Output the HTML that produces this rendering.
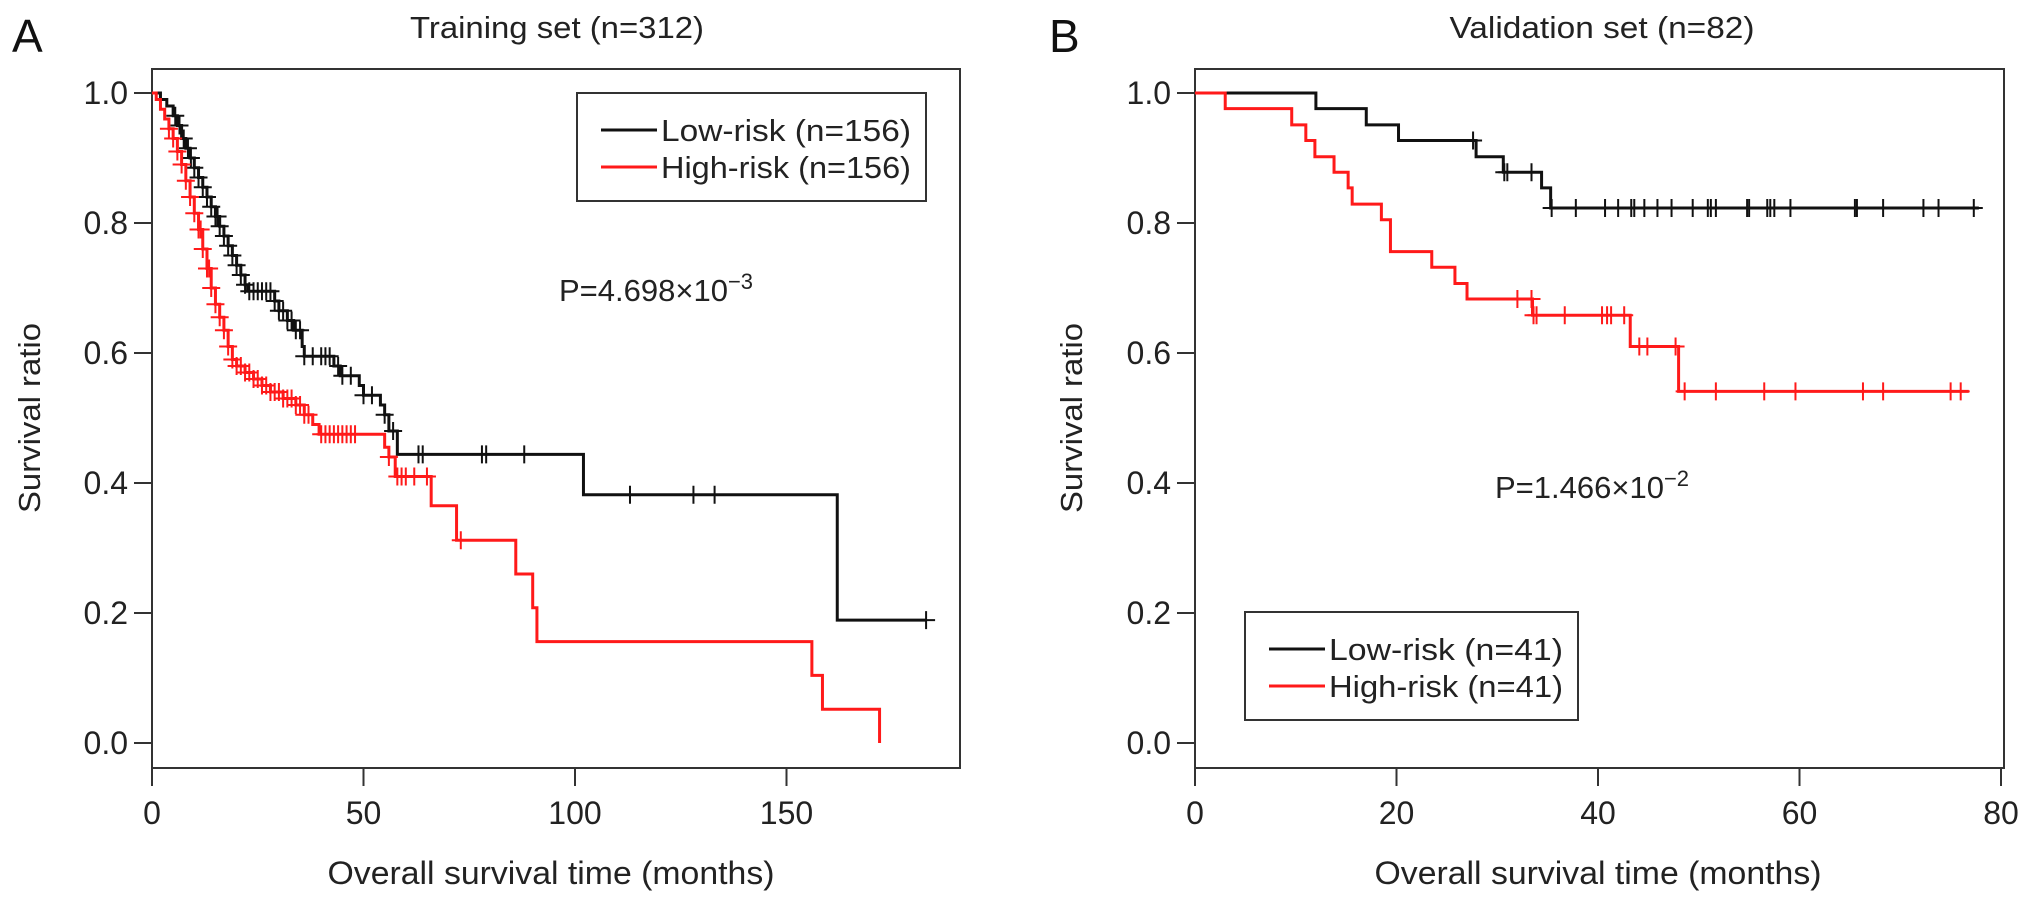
<!DOCTYPE html>
<html><head><meta charset="utf-8"><style>
html,body{margin:0;padding:0;background:#fff;}
svg{display:block;font-family:"Liberation Sans",Arial,sans-serif;}
</style></head><body>
<svg id="fig" width="2032" height="902" viewBox="0 0 2032 902" xmlns="http://www.w3.org/2000/svg"></svg>
<script>
// ---- Panel A data ----
const lowA_times = [2,3.5,5,6,7,8,9,10,11,12,13,14,15,16,17,18,19,20,21,22,22.6,29,30,32,33.5,35.5,36,43,44.5,49,50,54,55,56,58,102,162];
const lowA_surv  = [0.99,0.98,0.965,0.95,0.93,0.915,0.90,0.885,0.87,0.855,0.84,0.825,0.81,0.795,0.78,0.765,0.75,0.735,0.72,0.705,0.695,0.68,0.665,0.65,0.635,0.61,0.595,0.58,0.565,0.55,0.535,0.52,0.505,0.48,0.444,0.382,0.189];
const lowA_end = 183;
const lowA_censor = [5.5,6.5,7.5,8.5,9.2,10,11,12,13,14,15,15.5,16,17,18,19,20,21,22,23,24,25,26,27,28,29,30,31,32,33,34,35,36,38,40,41,42,44,45,47,50,52,55,57,63,64,78,79,88,113,128,133,183];
const highA_times = [1,2,3,4,5,6,7,8,9,10,11,12,13,14,15,16,17,18,19,20,22,24,26,28,31,34,36,38,39.5,55,56,57.5,66,72,86,90,91,156,158.5,172];
const highA_surv  = [0.99,0.975,0.96,0.945,0.93,0.91,0.89,0.865,0.84,0.815,0.79,0.76,0.73,0.70,0.675,0.655,0.635,0.61,0.59,0.58,0.57,0.56,0.55,0.54,0.53,0.52,0.505,0.49,0.475,0.455,0.44,0.41,0.365,0.312,0.26,0.208,0.156,0.104,0.052,0.0];
const highA_end = 172;
const highA_censor = [4,5,6,7,8,9,10,11,11.5,12,13,13.5,14,15,16,17,18,19,20,21,22,23,24,25,26,27,28,29,30,31,32,33,34,35,36,37,40,41,42,43,44,45,46,47,48,56,58,59,60,62,65,73];
// ---- Panel B data ----
const lowB_times = [12,17,20.2,27.9,30.6,34.4,35.3];
const lowB_surv  = [0.976,0.951,0.927,0.902,0.878,0.854,0.823];
const lowB_end = 77.8;
const lowB_censor = [27.6,30.7,31.0,33.4,35.4,37.8,40.7,42.0,43.3,43.6,44.6,45.9,47.3,49.4,50.9,51.2,51.7,54.8,55.0,56.8,57.1,57.5,59.1,65.5,65.7,68.3,72.3,73.8,77.3];
const highB_times = [3,9.6,11,11.9,13.8,15.2,15.6,18.5,19.4,23.5,25.8,27,33.5,43.2,48];
const highB_surv  = [0.976,0.951,0.927,0.902,0.878,0.854,0.829,0.805,0.756,0.732,0.707,0.683,0.658,0.61,0.541];
const highB_end = 76.8;
const highB_censor = [32,33.4,33.6,33.9,36.7,40.4,40.9,41.3,42.6,44.1,44.9,47.7,48.6,51.7,56.5,59.6,66.3,68.3,75.0,76.0];
const xTicksA = [0,50,100,150];
const xTicksB = [0,20,40,60,80];
const yTicks = [0.0,0.2,0.4,0.6,0.8,1.0];

const NS = "http://www.w3.org/2000/svg";
const svg = document.getElementById('fig');
function mk(tag, attrs, parent){const e=document.createElementNS(NS,tag);for(const k in attrs)e.setAttribute(k,attrs[k]);(parent||svg).appendChild(e);return e;}
function yScale(s){return 743 - s*650;}
function stepVal(times,surv,t){let v=1;for(let i=0;i<times.length;i++){if(times[i]<=t)v=surv[i];}return v;}

function panel(cfg){
  const g=mk('g',{});
  
  
  const xs = t => cfg.x0 + t*cfg.ppm;
  // box
  const box=mk('rect',{x:cfg.boxL,y:69,width:cfg.boxR-cfg.boxL,height:699,fill:'none',stroke:'#333','stroke-width':2},g);
  
  
  // letter
  const L=mk('text',{x:cfg.letterX,y:52,'font-size':46,fill:'#111'},g);L.textContent=cfg.letter;
  
  
  // title
  const T=mk('text',{x:cfg.titleX,y:38,'font-size':31,'text-anchor':'middle',fill:'#222',textLength:cfg.titleW,lengthAdjust:'spacingAndGlyphs'},g);T.textContent=cfg.title;
  
  
  // y axis
  yTicks.forEach(v=>{
    const y=yScale(v);
    mk('line',{x1:cfg.boxL-18,x2:cfg.boxL,y1:y,y2:y,stroke:'#333','stroke-width':2},g);
    const t=mk('text',{x:cfg.boxL-24,y:y+11,'font-size':32,'text-anchor':'end',fill:'#222'},g);t.textContent=v.toFixed(1);
    
    
  });
  const yt=mk('text',{x:0,y:0,'font-size':31,'text-anchor':'middle',fill:'#222',transform:`translate(${cfg.yTitleX},418) rotate(-90)`,textLength:190,lengthAdjust:'spacingAndGlyphs'},g);yt.textContent='Survival ratio';
  
  
  // x axis
  mk('line',{x1:xs(cfg.xTicks[0]),x2:xs(cfg.xTicks[cfg.xTicks.length-1]),y1:768,y2:768,stroke:'#333','stroke-width':2},g);
  cfg.xTicks.forEach(v=>{
    const x=xs(v);
    mk('line',{x1:x,x2:x,y1:768,y2:786,stroke:'#333','stroke-width':2},g);
    const t=mk('text',{x:x,y:824,'font-size':32,'text-anchor':'middle',fill:'#222'},g);t.textContent=String(v);
    
    
  });
  const xt=mk('text',{x:cfg.xTitleX,y:884,'font-size':32,'text-anchor':'middle',fill:'#222',textLength:447,lengthAdjust:'spacingAndGlyphs'},g);xt.textContent='Overall survival time (months)';
  
  
  // curves
  cfg.series.forEach(s=>{
    let d=`M${xs(0)},${yScale(1)}`;
    for(let i=0;i<s.times.length;i++){d+=` H${xs(s.times[i])} V${yScale(s.surv[i])}`;}
    d+=` H${xs(s.end)}`;
    const p=mk('path',{d:d,fill:'none',stroke:s.color,'stroke-width':3},g);
    
    
    s.censor.forEach(t=>{
      const x=xs(t), y=yScale(stepVal(s.times,s.surv,t));
      const c=mk('path',{d:`M${x-9},${y} H${x+9} M${x},${y-9} V${y+9}`,stroke:s.color,'stroke-width':2,fill:'none'},g);
      
      
    });
  });
  // legend
  const lg=mk('g',{},g);
  
  
  mk('rect',{x:cfg.leg.x,y:cfg.leg.y,width:cfg.leg.w,height:108,fill:'#fff',stroke:'#333','stroke-width':2},lg);
  cfg.series.forEach((s,i)=>{
    const yy=cfg.leg.y+37+i*37;
    mk('line',{x1:cfg.leg.x+24,x2:cfg.leg.x+80,y1:yy,y2:yy,stroke:s.color,'stroke-width':3},lg);
    const t=mk('text',{x:cfg.leg.x+84,y:yy+11,'font-size':31,fill:'#222',textLength:cfg.leg.tw,lengthAdjust:'spacingAndGlyphs'},lg);t.textContent=s.label;
    
    
  });
  // p-value
  const pt=mk('text',{x:cfg.p.x,y:cfg.p.y+11,'font-size':31,fill:'#222'},g);
  
  
  const a=mk('tspan',{},pt);a.textContent=cfg.p.base;
  const b=mk('tspan',{dy:-12,'font-size':22},pt);b.textContent=cfg.p.exp;
}

panel({name:'panel-a-training',letter:'A',letterX:12,title:'Training set (n=312)',titleX:557,titleW:294,
  boxL:152,boxR:960,x0:152,ppm:4.23,xTicks:xTicksA,yTitleX:40,xTitleX:551,
  leg:{x:577,y:93,w:349,tw:250},p:{x:559,y:290,base:'P=4.698×10',exp:'−3'},
  series:[
    {name:'low-risk-a',label:'Low-risk (n=156)',color:'#111',times:lowA_times,surv:lowA_surv,end:lowA_end,censor:lowA_censor},
    {name:'high-risk-a',label:'High-risk (n=156)',color:'#ff1a1a',times:highA_times,surv:highA_surv,end:highA_end,censor:highA_censor}
  ]});
panel({name:'panel-b-validation',letter:'B',letterX:1049,title:'Validation set (n=82)',titleX:1602,titleW:305,
  boxL:1195,boxR:2004,x0:1195,ppm:10.075,xTicks:xTicksB,yTitleX:1082,xTitleX:1598,
  leg:{x:1245,y:612,w:333,tw:234},p:{x:1495,y:487,base:'P=1.466×10',exp:'−2'},
  series:[
    {name:'low-risk-b',label:'Low-risk (n=41)',color:'#111',times:lowB_times,surv:lowB_surv,end:lowB_end,censor:lowB_censor},
    {name:'high-risk-b',label:'High-risk (n=41)',color:'#ff1a1a',times:highB_times,surv:highB_surv,end:highB_end,censor:highB_censor}
  ]});
</script>
</body></html>
